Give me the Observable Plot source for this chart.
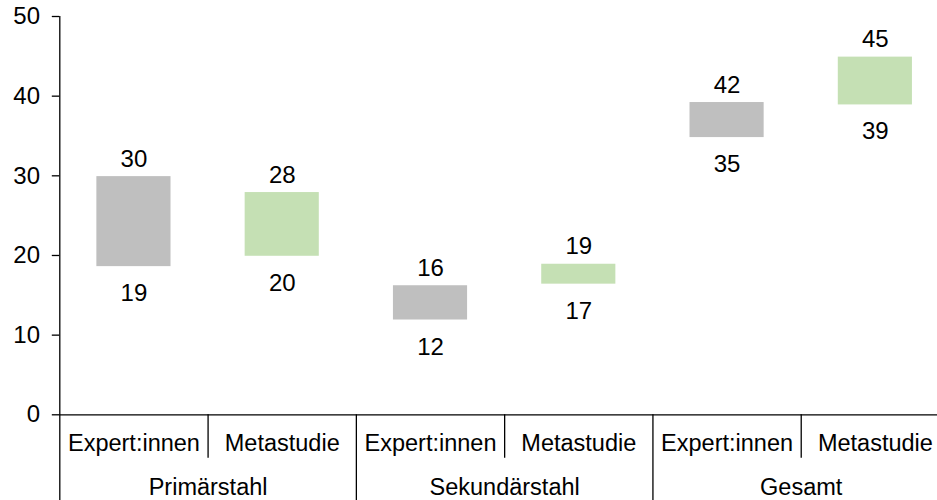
<!DOCTYPE html>
<html>
<head>
<meta charset="utf-8">
<script src="https://cdn.jsdelivr.net/npm/d3@7"></script>
<script src="https://cdn.jsdelivr.net/npm/@observablehq/plot@0.6"></script>
<style>
  html, body { margin: 0; padding: 0; background: #fff; }
  #chart svg { display: block; }
</style>
</head>
<body>
<div id="chart"></div>
<script>
// ---- data ----
const groups = ["Primärstahl", "Sekundärstahl", "Gesamt"];
const sources = ["Expert:innen", "Metastudie"];
const lowValues  = [18.6, 19.9, 11.9, 16.4, 34.8, 38.9];
const highValues = [29.9, 27.9, 16.2, 18.9, 39.2, 44.9];
const lowLabels  = ["19", "20", "12", "17", "35", "39"];
const highLabels = ["30", "28", "16", "19", "42", "45"];
const yTicks = [0, 10, 20, 30, 40, 50];
const colors = {"Expert:innen": "#bfbfbf", "Metastudie": "#c5e0b4"};

// ---- table built from the arrays ----
const rows = [];
groups.forEach((g, gi) => sources.forEach((s, si) => {
  const i = gi * sources.length + si;
  rows.push({i, group: g, source: s, low: lowValues[i], high: highValues[i],
             lowLabel: lowLabels[i], highLabel: highLabels[i]});
}));
const nCols = rows.length;
const groupRows = groups.map((g, gi) => ({group: g, center: gi * sources.length + sources.length / 2}));
const shortSeps = groups.flatMap((g, gi) => d3.range(1, sources.length).map(k => gi * sources.length + k));
const fullSeps = groups.map((g, gi) => (gi + 1) * sources.length);

const FONT = "Liberation Sans, Arial, Helvetica, sans-serif";
const FS = 24;     // numbers
const FC = 23.5;   // category labels
const axisW = 1.3;

const chart = Plot.plot({
  width: 937,
  height: 500,
  marginTop: 16,
  marginBottom: 85.7,
  marginLeft: 59.3,
  marginRight: 0,
  style: {fontFamily: FONT, fontSize: FS + "px", color: "#000", background: "#fff", overflow: "visible"},
  x: {domain: [0, nCols], range: [59.3, 949], axis: null},
  y: {domain: [0, 50], axis: null},
  marks: [
    // bars (floating ranges)
    Plot.rectY(rows, {
      x1: d => d.i + 0.25, x2: d => d.i + 0.75,
      y1: "low", y2: "high",
      fill: d => colors[d.source]
    }),
    // value labels
    Plot.text(rows, {x: d => d.i + 0.5, y: "high", text: "highLabel",
      lineAnchor: "bottom", dy: -10, fontSize: FS, fill: "#000"}),
    Plot.text(rows, {x: d => d.i + 0.5, y: "low", text: "lowLabel",
      lineAnchor: "top", dy: 17.5, fontSize: FS, fill: "#000"}),
    // y axis
    Plot.axisY({ticks: yTicks, tickSize: 7.5, tickPadding: 12.3, fontSize: FS,
      stroke: "#000", strokeWidth: axisW, fill: "#000"}),
    Plot.ruleX([0], {stroke: "#000", strokeWidth: axisW, insetBottom: -85.7}),
    // x axis baseline
    Plot.ruleY([0], {stroke: "#000", strokeWidth: axisW}),
    // category separators
    Plot.ruleX(shortSeps, {y1: 0, y2: 0, insetBottom: -43.4, stroke: "#000", strokeWidth: axisW}),
    Plot.ruleX(fullSeps, {y1: 0, y2: 0, insetBottom: -85.7, stroke: "#000", strokeWidth: axisW}),
    // category labels
    Plot.text(rows, {x: d => d.i + 0.5, frameAnchor: "bottom", text: "source",
      lineAnchor: "top", dy: 19.5, fontSize: FC, fill: "#000"}),
    Plot.text(groupRows, {x: "center", frameAnchor: "bottom", text: "group",
      lineAnchor: "top", dy: 63.5, fontSize: FC, fill: "#000"})
  ]
});
document.getElementById("chart").appendChild(chart);
</script>
</body>
</html>
